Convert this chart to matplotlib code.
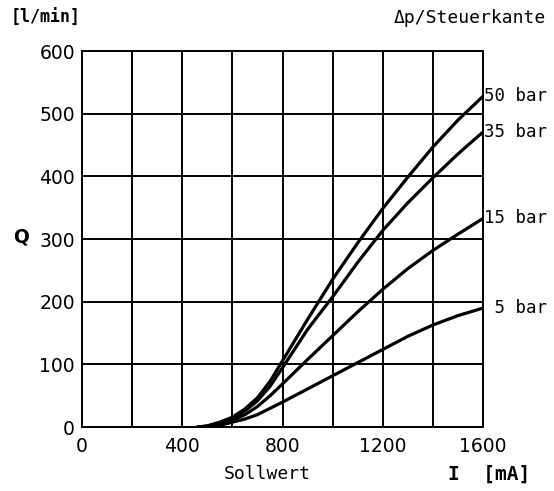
import numpy as np
import matplotlib
matplotlib.use('Agg')
import matplotlib.pyplot as plt

# Sollwert I [mA]
I_mA = [460, 500, 550, 600, 650, 700, 750, 800, 900, 1000, 1100, 1200, 1300, 1400, 1500, 1600]

# Q [l/min] je Druckdifferenz
q_50 = [0, 2, 8, 16, 29, 47, 73, 106, 172, 236, 294, 349, 399, 447, 490, 528]
q_35 = [0, 2, 7, 14, 26, 42, 65, 95, 156, 208, 263, 314, 358, 398, 436, 471]
q_15 = [0, 1, 5, 11, 20, 33, 50, 69, 108, 146, 184, 220, 253, 282, 308, 333]
q_5 = [0, 1, 3, 8, 13, 20, 30, 40, 61, 82, 103, 124, 145, 163, 178, 190]

series = [(q_50, '50 bar'), (q_35, '35 bar'), (q_15, '15 bar'), (q_5, ' 5 bar')]

x_ticks = [0, 400, 800, 1200, 1600]
y_ticks = [0, 100, 200, 300, 400, 500, 600]

MONO = ['DejaVu Sans Mono', 'DejaVu Sans']

fig = plt.figure(figsize=(5.54, 4.91), dpi=100)
ax = fig.add_axes([0.148, 0.130, 0.724, 0.766])

ax.set_xlim(0, 1600)
ax.set_ylim(0, 600)
ax.set_xticks(x_ticks)
ax.set_xticks(np.arange(0, 1601, 200), minor=True)
ax.set_yticks(y_ticks)
ax.grid(True, which='both', color='black', lw=1.4)
ax.tick_params(which='both', length=0, labelsize=13.5)
ax.tick_params(axis='y', pad=5)
ax.tick_params(axis='x', pad=7)
for s in ax.spines.values():
    s.set_linewidth(1.4)

for q, lab in series:
    ax.plot(I_mA, q, color='black', lw=2.3, solid_capstyle='round', solid_joinstyle='round')
    ax.text(1605, q[-1], lab, fontsize=12.5, va='center', ha='left', family=MONO)

fig.text(0.020, 0.963, '[l/min]', fontsize=12, fontweight='bold', va='center', family=MONO)
fig.text(0.985, 0.963, 'Δp/Steuerkante', fontsize=13, ha='right', va='center', family=MONO)
fig.text(0.024, 0.517, 'Q', fontsize=13.5, fontweight='bold', va='center')
fig.text(0.482, 0.035, 'Sollwert', fontsize=13, ha='center', va='center', family=MONO)
fig.text(0.957, 0.035, 'I  [mA]', fontsize=14, fontweight='bold', ha='right', va='center', family=MONO)

fig.savefig('out.png', dpi=100)
